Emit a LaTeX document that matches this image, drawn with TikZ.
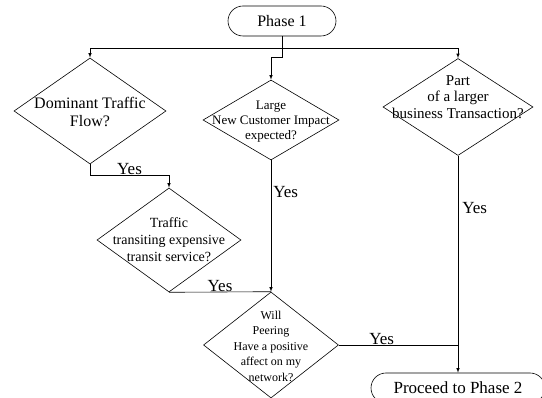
\documentclass[tikz,border=0pt]{standalone}
\usepackage{fontspec}
\setmainfont{Liberation Serif}
\usetikzlibrary{positioning}
\usetikzlibrary{calc}
\usetikzlibrary{arrows.meta}
\usetikzlibrary{shapes.geometric}

\begin{document}
\begin{tikzpicture}[x=1pt, y=1pt,
                        terminal/.style={draw, rounded corners=15pt, minimum height=30pt, inner sep=0pt},
                        decision/.style={draw, diamond, inner sep=0pt},
                        question/.style={align=center, inner sep=0pt},
                        yes/.style={font=\fontsize{17}{19}\selectfont, inner sep=0.5pt},
                        flow/.style={draw, line width=0.6pt, -latex},
                        line/.style={draw, line width=0.6pt}]

            \useasboundingbox (0,0) rectangle (542,398);

            \node[terminal, minimum width=108pt, line width=0.6pt, font=\fontsize{16}{18}\selectfont] (p1) at (282,377) {Phase 1};

            \node[decision, minimum width=152pt, minimum height=106pt, line width=0.6pt,
                  label={[question, font=\fontsize{16}{18}\selectfont, yshift=-1pt]center:{Dominant Traffic\\Flow?}}] (d1) at (90,287) {};
            \node[decision, minimum width=136pt, minimum height=80pt, line width=0.6pt,
                  label={[question, font=\fontsize{13}{15}\selectfont, yshift=-2pt]center:{Large\\New Customer Impact\\expected?}}] (d2) at (271,278) {};
            \node[decision, minimum width=150pt, minimum height=97pt, line width=0.6pt,
                  label={[question, font=\fontsize{15}{16.5}\selectfont, yshift=10pt]center:{Part\\of a larger\\business Transaction?}}] (d3) at (458,291) {};
            \node[decision, minimum width=144pt, minimum height=104pt, line width=0.6pt,
                  label={[question, font=\fontsize{14}{17}\selectfont]center:{Traffic\\transiting expensive\\transit service?}}] (d4) at (169,158) {};
            \node[decision, minimum width=135pt, minimum height=106pt, line width=0.6pt,
                  label={[question, font=\fontsize{12}{15.5}\selectfont, yshift=-1pt]center:{Will\\Peering\\Have a positive\\affect on my\\network?}}] (d5) at (271,53) {};

            \node[terminal, minimum width=174pt, line width=0.6pt, font=\fontsize{17}{19}\selectfont] (p2) at (458,10) {Proceed to Phase 2};

            % from phase 1 to the three questions
            \path[flow] (p1.south) -- ++(0,-12.5) -| (d1.north);
            \path[flow] (p1.south) -- ++(0,-12.5) -| (d3.north);
            \path[flow] (p1.south) -- ++(0,-21.5) -| (d2.north);

            % yes branches
            \path[flow] (d1.south) -- ++(0,-11) -| node[yes, pos=0.25, above] {Yes} (d4.north);
            \path[line] (d4.south) -- node[yes, pos=0.5, above] {Yes} (d5.north);
            \path[flow] (d2.south) -- node[yes, pos=0.24, right, inner sep=2pt] {Yes} (d5.north);
            \path[flow] (d3.south) -- node[yes, pos=0.24, right, inner sep=4pt] {Yes} (p2.north);
            \path[line] (d5.east) -- node[yes, pos=0.36, above] {Yes} (d5.east -| d3.south);

        \end{tikzpicture}
\end{document}
